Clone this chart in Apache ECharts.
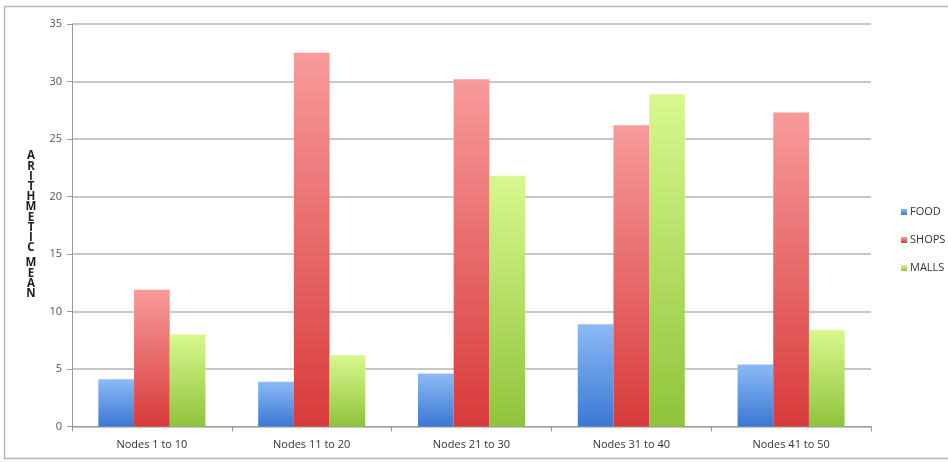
<!DOCTYPE html>
<html>
<head>
<meta charset="utf-8">
<script src="https://cdn.jsdelivr.net/npm/echarts@6/dist/echarts.min.js"></script>
<style>
  html, body { margin: 0; padding: 0; background: #fff; }
  #chart { width: 948px; height: 462px; }
</style>
</head>
<body>
<div id="chart"></div>
<script>
// Node groups along the x axis
const categories = ['Nodes 1 to 10', 'Nodes 11 to 20', 'Nodes 21 to 30', 'Nodes 31 to 40', 'Nodes 41 to 50'];
// Arithmetic mean per place type
const food  = [4.1, 3.9, 4.6, 8.9, 5.4];
const shops = [11.9, 32.5, 30.2, 26.2, 27.3];
const malls = [8.0, 6.2, 21.8, 28.9, 8.4];
const yTicks = [0, 5, 10, 15, 20, 25, 30, 35];

// Y axis title, drawn as stacked letters (one word per block)
const axisTitleWords = ['ARITHMETIC', 'MEAN'];

function vgrad(top, bottom) {
  return new echarts.graphic.LinearGradient(0, 0, 0, 1, [
    { offset: 0, color: top },
    { offset: 1, color: bottom }
  ]);
}

function stacked(word, top) {
  return {
    type: 'text',
    x: 31,
    y: top,
    style: {
      text: word.split('').join('\n'),
      fontFamily: font,
      fontWeight: 'bold',
      fontSize: 11.5,
      lineHeight: 10.2,
      fill: '#1e1e1e',
      align: 'center',
      verticalAlign: 'top'
    },
    silent: true
  };
}

const font = '"Open Sans", "Liberation Sans", sans-serif';

const chart = echarts.init(document.getElementById('chart'), null, { renderer: 'canvas' });

chart.setOption({
  animation: false,
  backgroundColor: '#fff',
  textStyle: { fontFamily: font },
  graphic: [
    {
      type: 'rect',
      shape: { x: 4.5, y: 6.5, width: 960, height: 452 },
      style: { fill: 'none', stroke: '#b8b8b8', lineWidth: 1.5 },
      silent: true
    },
    stacked(axisTitleWords[0], 151),
    stacked(axisTitleWords[1], 258)
  ],
  grid: { left: 72, right: 77, top: 24, bottom: 35.5, containLabel: false },
  legend: {
    orient: 'vertical',
    left: 896,
    top: 200,
    itemWidth: 6,
    itemHeight: 6,
    itemGap: 14,
    icon: 'rect',
    textStyle: { fontSize: 11, color: '#333', fontFamily: font, padding: [0, 0, 0, -2], lineHeight: 14 },
    data: ['FOOD', 'SHOPS', 'MALLS']
  },
  xAxis: {
    type: 'category',
    data: categories,
    axisLine: { lineStyle: { color: '#9a9a9a', width: 1 } },
    axisTick: { show: true, length: 5, alignWithLabel: false, lineStyle: { color: '#9a9a9a' } },
    axisLabel: { fontSize: 11, color: '#333', margin: 13, fontFamily: font }
  },
  yAxis: {
    type: 'value',
    min: yTicks[0],
    max: yTicks[yTicks.length - 1],
    interval: 5,
    axisLine: { show: true, lineStyle: { color: '#9a9a9a', width: 1 } },
    axisTick: { show: true, length: 5, lineStyle: { color: '#9a9a9a' } },
    axisLabel: { fontSize: 11, color: '#555', margin: 10, fontFamily: font },
    splitLine: { lineStyle: { color: '#b4b4b4', width: 1.5 } }
  },
  series: [
    {
      name: 'FOOD', type: 'bar', data: food,
      barGap: '0%', barCategoryGap: '33%',
      itemStyle: { color: vgrad('#8cbaf5', '#3a78d4') }
    },
    {
      name: 'SHOPS', type: 'bar', data: shops,
      barGap: '0%', barCategoryGap: '33%',
      itemStyle: { color: vgrad('#f89b9b', '#d83a3a') }
    },
    {
      name: 'MALLS', type: 'bar', data: malls,
      barGap: '0%', barCategoryGap: '33%',
      itemStyle: { color: vgrad('#d8f88e', '#8fc43c') }
    }
  ]
});
</script>
</body>
</html>
